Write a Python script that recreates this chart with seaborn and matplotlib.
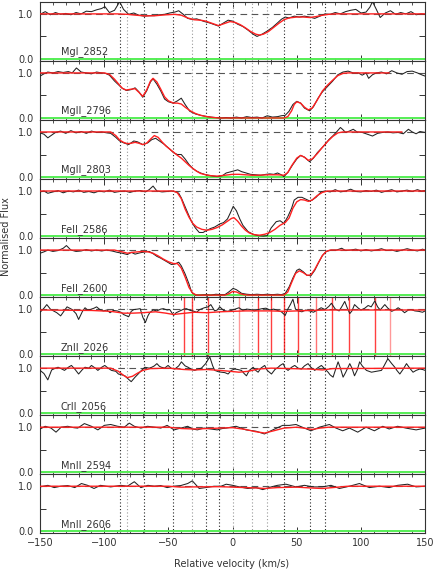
import matplotlib
matplotlib.use("Agg")
import seaborn as sns
from matplotlib import pyplot as plt
from matplotlib.ticker import MultipleLocator

# component velocities (km/s) marked by the dotted lines
components = [-88, -82, -69.3, -46.3, -31.3, -20.4, -10.4, 0.4, 15.3, 26.8, 40.2, 60.0, 72.3]
grey_components = [-82, -31.3, 0.4, 15.3, 26.8]
# MgI 2026 components blended into the ZnII panel
mg_blend_lines = [-37.6, -31.8, -19.0, 4.7, 19.8, 30.2, 40.1, 51.2, 65.3, 77.2, 90.8, 110.7, 122.9]
mg_blend_alpha = [0.75, 0.75, 0.75, 0.4, 0.75, 0.75, 0.75, 0.75, 0.55, 0.75, 0.75, 0.75, 0.4]

panel_names = ["MgI_2852", "MgII_2796", "MgII_2803", "FeII_2586", "FeII_2600",
               "ZnII_2026", "CrII_2056", "MnII_2594", "MnII_2606"]
err_level = [0.006, 0.008, 0.008, 0.008, 0.006, 0.01, 0.008, 0.006, 0.006]

mgi2852_data = [(-150, 0.99), (-146, 1.05), (-142, 0.98), (-138, 1.03), (-134, 0.99), (-130, 1.01),
                (-126, 0.98), (-122, 1.03), (-118, 1.0), (-114, 1.06), (-110, 1.05), (-106, 1.09),
                (-102, 1.12), (-99.5, 1.16), (-96, 1.03), (-92, 1.08), (-88, 1.27), (-85, 1.1),
                (-81, 0.99), (-77, 1.02), (-73, 0.97), (-69, 0.95), (-65, 0.96), (-61, 0.96),
                (-57, 0.98), (-53, 0.99), (-49, 1.02), (-45, 1.04), (-42, 1.07), (-38, 0.98),
                (-35, 0.9), (-32, 0.88), (-28, 0.89), (-25, 0.86), (-22, 0.83), (-18, 0.8),
                (-14, 0.76), (-11, 0.73), (-7, 0.8), (-3.5, 0.86), (0, 0.84), (4, 0.77), (8, 0.72),
                (12, 0.64), (16, 0.55), (19, 0.5), (23, 0.55), (27, 0.62), (31, 0.7), (35, 0.8),
                (38, 0.88), (41, 0.93), (44, 0.91), (48, 0.95), (52, 0.93), (56, 0.95), (60, 0.93),
                (64, 0.9), (68, 0.95), (72, 1.0), (76, 0.99), (80, 1.03), (84, 1.0), (88, 1.05),
                (92, 1.08), (96, 1.1), (100, 1.02), (104, 1.04), (107, 1.15), (109, 1.27), (112, 1.1),
                (115, 0.92), (119, 1.02), (123, 1.07), (127, 0.99), (131, 1.03), (135, 1.0),
                (139, 1.05), (143, 0.98), (147, 1.0), (150, 0.99)]
mgi2852_fit = [(-150, 1.0), (-90, 1.0), (-82, 0.99), (-75, 0.97), (-68, 0.955), (-60, 0.96),
               (-52, 0.98), (-45, 0.99), (-40, 0.97), (-35, 0.91), (-30, 0.87), (-25, 0.86),
               (-21, 0.84), (-16, 0.79), (-11, 0.74), (-6, 0.79), (-2, 0.83), (2, 0.81), (6, 0.76),
               (10, 0.69), (14, 0.61), (18, 0.55), (21, 0.53), (24, 0.55), (28, 0.61), (32, 0.7),
               (36, 0.79), (40, 0.87), (44, 0.91), (50, 0.93), (55, 0.93), (60, 0.92), (65, 0.94),
               (70, 0.97), (75, 0.99), (80, 1.0), (150, 1.0)]

mgii2796_data = [(-150, 0.93), (-147, 0.98), (-144, 1.02), (-140, 1.0), (-136, 1.03), (-132, 1.01),
                 (-128, 1.03), (-125, 1.0), (-121.7, 1.11), (-118, 1.02), (-114, 1.0), (-110, 0.98),
                 (-106, 1.02), (-102, 1.0), (-99, 0.99), (-96, 0.95), (-92, 0.82), (-89, 0.74),
                 (-86, 0.66), (-82.7, 0.61), (-79, 0.63), (-76, 0.67), (-73, 0.58), (-70, 0.46),
                 (-67, 0.6), (-64, 0.8), (-62, 0.87), (-59, 0.75), (-56, 0.6), (-53, 0.42),
                 (-50, 0.36), (-46.4, 0.33), (-43, 0.38), (-40, 0.44), (-37, 0.3), (-33.4, 0.15),
                 (-29, 0.09), (-25, 0.06), (-21.7, 0.04), (-17, 0.02), (-13, 0.01), (-9, 0.0),
                 (-5, 0.01), (-1, 0.0), (3, 0.02), (7, 0.0), (11, 0.03), (15, 0.01), (19, 0.02),
                 (23, 0.0), (27, 0.05), (31, 0.02), (35, 0.03), (38, 0.05), (41, 0.06), (44, 0.15),
                 (47, 0.3), (50, 0.37), (53, 0.33), (56, 0.22), (60, 0.16), (63, 0.25), (66.6, 0.44),
                 (70, 0.58), (74, 0.7), (78, 0.82), (82, 0.96), (86, 1.02), (90, 1.04), (94, 1.0),
                 (98, 1.0), (101, 0.95), (104, 1.0), (106, 0.88), (109, 0.96), (112, 1.0),
                 (116, 1.02), (120, 0.98), (124, 1.05), (128, 1.0), (132, 0.97), (136, 1.03),
                 (140, 1.04), (144, 1.0), (148, 0.95), (150, 0.93)]
mgii2796_fit = [(-150, 1.0), (-100, 1.0), (-96, 0.97), (-92, 0.86), (-89, 0.76), (-86, 0.66),
                (-83, 0.62), (-79, 0.64), (-76, 0.65), (-73, 0.57), (-70, 0.48), (-67, 0.62),
                (-64, 0.82), (-62, 0.88), (-59, 0.8), (-56, 0.64), (-53, 0.47), (-50, 0.38),
                (-46, 0.33), (-43, 0.33), (-40, 0.31), (-37, 0.24), (-33, 0.16), (-29, 0.1),
                (-25, 0.06), (-20, 0.03), (-15, 0.01), (-10, 0.0), (40, 0.0), (43, 0.03),
                (46, 0.16), (48, 0.3), (50, 0.36), (53, 0.33), (56, 0.24), (59, 0.18), (62, 0.22),
                (66, 0.4), (70, 0.6), (74, 0.73), (78, 0.84), (82, 0.94), (86, 0.99), (90, 1.0),
                (122, 1.0)]

mgii2803_data = [(-150, 0.98), (-147, 0.95), (-144, 0.87), (-141, 0.93), (-138, 0.99), (-134, 1.02),
                 (-130, 0.97), (-126, 1.03), (-122, 0.98), (-118, 1.01), (-114, 0.97), (-110, 1.02),
                 (-106, 0.99), (-102, 1.0), (-98, 0.98), (-95, 0.97), (-91, 0.88), (-88, 0.8),
                 (-85, 0.76), (-81, 0.72), (-77, 0.8), (-74, 0.78), (-70, 0.72), (-66, 0.76),
                 (-63, 0.83), (-60, 0.86), (-57, 0.8), (-53, 0.72), (-49, 0.62), (-46, 0.54),
                 (-43, 0.5), (-40, 0.5), (-37, 0.4), (-34, 0.28), (-31, 0.19), (-28, 0.13),
                 (-25, 0.09), (-22, 0.06), (-19, 0.04), (-15, 0.02), (-12, 0.01), (-8, 0.03),
                 (-5, 0.09), (-1, 0.12), (4, 0.16), (7, 0.12), (10.5, 0.09), (14, 0.06), (18, 0.05),
                 (22, 0.04), (26, 0.06), (29, 0.07), (32, 0.06), (35, 0.09), (38, 0.05), (40, 0.01),
                 (43, 0.1), (47, 0.28), (50, 0.4), (53, 0.48), (56, 0.44), (60, 0.34), (63, 0.42),
                 (66, 0.54), (69, 0.63), (72, 0.72), (75, 0.83), (78, 0.91), (81, 1.0), (84, 1.1),
                 (86, 1.05), (88, 0.99), (91, 1.02), (94, 1.06), (97, 1.0), (101, 0.99), (105, 0.95),
                 (109, 0.91), (113, 0.97), (117, 0.99), (121, 1.0), (125, 0.98), (129, 0.99),
                 (133, 0.96), (137, 1.06), (140, 1.0), (143, 0.96), (146, 1.01), (150, 0.99)]
mgii2803_fit = [(-150, 1.0), (-95, 1.0), (-91, 0.92), (-88, 0.82), (-85, 0.77), (-82, 0.74),
                (-79, 0.75), (-76, 0.77), (-73, 0.75), (-70, 0.72), (-67, 0.75), (-64, 0.84),
                (-61, 0.92), (-58, 0.88), (-55, 0.78), (-52, 0.69), (-49, 0.62), (-46, 0.55),
                (-43, 0.48), (-40, 0.42), (-37, 0.34), (-34, 0.26), (-31, 0.19), (-28, 0.13),
                (-25, 0.08), (-21, 0.05), (-17, 0.03), (-12, 0.02), (-6, 0.04), (0, 0.06), (5, 0.06),
                (10, 0.05), (15, 0.04), (20, 0.04), (28, 0.05), (35, 0.05), (40, 0.04), (43, 0.1),
                (46, 0.25), (50, 0.42), (53, 0.48), (56, 0.44), (59, 0.37), (62, 0.4), (66, 0.52),
                (70, 0.66), (74, 0.79), (78, 0.9), (82, 0.98), (86, 1.0), (132, 1.0)]

feii2586_data = [(-150, 0.98), (-147, 1.0), (-144, 0.95), (-140, 0.98), (-136, 1.01), (-132, 0.96),
                 (-128, 1.0), (-124, 0.98), (-120, 1.02), (-116, 0.97), (-112, 0.99), (-108, 0.96),
                 (-104, 1.0), (-100, 0.98), (-96, 1.02), (-92, 0.97), (-88, 0.99), (-84, 1.0),
                 (-80, 0.97), (-76, 1.0), (-72, 1.01), (-68, 0.98), (-65, 1.03), (-62, 1.11),
                 (-59, 1.0), (-55, 0.98), (-51, 0.99), (-47.7, 1.0), (-44, 0.98), (-42, 0.95),
                 (-40, 0.85), (-37, 0.65), (-34, 0.45), (-32, 0.32), (-29, 0.18), (-26, 0.08),
                 (-23, 0.08), (-20, 0.13), (-17, 0.17), (-14, 0.2), (-10, 0.27), (-7, 0.3),
                 (-4, 0.38), (-2, 0.5), (0.5, 0.66), (3, 0.56), (5.6, 0.38), (8, 0.24), (12, 0.1),
                 (16, 0.04), (20, 0.01), (24, 0.0), (27, 0.01), (30, 0.18), (34, 0.32), (37, 0.34),
                 (40, 0.28), (43, 0.43), (46, 0.62), (48, 0.8), (51, 0.86), (54, 0.86), (57, 0.82),
                 (60, 0.78), (62, 0.8), (65, 0.86), (69, 0.98), (72, 1.0), (76, 0.98), (80, 1.03),
                 (84, 0.98), (88, 1.0), (92, 1.04), (96, 0.99), (100, 0.98), (104, 1.01),
                 (108, 0.99), (112, 1.02), (116, 0.97), (120, 1.0), (124, 1.03), (128, 0.98),
                 (132, 1.0), (136, 1.02), (140, 0.99), (144, 1.03), (147, 1.0), (150, 1.01)]
feii2586_fit = [(-150, 1.0), (-46, 1.0), (-43, 0.96), (-40, 0.83), (-37, 0.6), (-34, 0.42),
                (-31, 0.28), (-28, 0.2), (-24, 0.15), (-20, 0.13), (-16, 0.15), (-12, 0.19),
                (-8, 0.25), (-4, 0.33), (-1, 0.39), (1, 0.41), (4, 0.33), (7, 0.22), (10, 0.13),
                (13, 0.07), (17, 0.03), (21, 0.02), (25, 0.04), (29, 0.08), (33, 0.15), (37, 0.24),
                (41, 0.3), (44, 0.4), (47, 0.62), (50, 0.76), (53, 0.81), (56, 0.8), (59, 0.77),
                (62, 0.8), (66, 0.9), (70, 0.97), (74, 1.0), (150, 1.0)]

feii2600_data = [(-150, 0.93), (-147, 0.96), (-144, 1.0), (-140, 0.97), (-136, 0.99), (-132, 1.04),
                 (-129.5, 1.1), (-126, 1.0), (-122, 0.97), (-118, 0.98), (-114, 1.01), (-110, 0.98),
                 (-106, 1.0), (-102, 0.98), (-98, 1.0), (-94, 0.98), (-90, 0.95), (-86, 0.93),
                 (-82, 0.9), (-79, 0.95), (-76, 0.91), (-72, 0.94), (-68, 0.96), (-65, 0.97),
                 (-62, 0.92), (-59, 0.86), (-56, 0.82), (-53, 0.77), (-50, 0.72), (-47.7, 0.68),
                 (-45, 0.69), (-42, 0.73), (-40, 0.65), (-37, 0.47), (-34, 0.25), (-32, 0.07),
                 (-29, 0.0), (-25, 0.0), (-21, 0.01), (-17, 0.0), (-13, 0.02), (-9, 0.01), (-6, 0.01),
                 (-3, 0.07), (0.4, 0.15), (3, 0.12), (7, 0.04), (11, 0.02), (15, 0.01), (19, 0.02),
                 (23, 0.01), (27, 0.02), (31, 0.01), (35, 0.02), (38, 0.01), (41, 0.04), (44, 0.18),
                 (47, 0.38), (50, 0.55), (52, 0.58), (55, 0.52), (58, 0.44), (61, 0.43), (64, 0.55),
                 (67, 0.72), (70, 0.88), (73, 0.97), (77, 1.0), (81, 1.0), (85, 1.04), (88, 0.99),
                 (92, 1.0), (96, 1.02), (100, 0.98), (104, 1.01), (108, 0.98), (112, 1.0),
                 (116, 1.03), (120, 0.99), (124, 1.0), (128, 0.97), (132, 1.0), (136, 1.03),
                 (140, 1.0), (144, 0.98), (148, 1.02), (150, 1.0)]
feii2600_fit = [(-150, 1.0), (-92, 1.0), (-86, 0.96), (-82, 0.93), (-78, 0.95), (-74, 0.96),
                (-70, 0.97), (-66, 0.96), (-62, 0.93), (-58, 0.87), (-54, 0.8), (-50, 0.74),
                (-46, 0.7), (-43, 0.7), (-40, 0.6), (-37, 0.4), (-34, 0.17), (-31, 0.04), (-28, 0.0),
                (-6, 0.0), (-3, 0.03), (0, 0.08), (3, 0.07), (6, 0.03), (9, 0.01), (12, 0.0),
                (40, 0.0), (43, 0.07), (46, 0.28), (49, 0.48), (52, 0.54), (55, 0.5), (58, 0.44),
                (61, 0.45), (64, 0.57), (67, 0.73), (70, 0.88), (73, 0.97), (76, 1.0), (150, 1.0)]

znii2026_data = [(-150, 0.93), (-147, 1.02), (-144.8, 1.1), (-142, 1.0), (-139.6, 0.96), (-137, 0.92),
                 (-134, 0.85), (-131, 0.97), (-129, 1.05), (-125, 0.99), (-122, 0.9), (-120, 0.77),
                 (-117, 0.95), (-115, 1.03), (-113, 0.98), (-111, 0.99), (-108, 1.02), (-106, 1.05),
                 (-103, 0.98), (-100.6, 0.96), (-98, 0.98), (-95.5, 0.92), (-93, 0.97), (-90, 0.96),
                 (-87, 0.93), (-85, 0.88), (-81, 0.83), (-79, 0.95), (-77, 0.99), (-74, 1.0),
                 (-72, 1.01), (-70, 0.82), (-68, 0.7), (-66, 0.85), (-64.6, 0.92), (-62, 0.98),
                 (-59, 0.96), (-56, 1.0), (-54, 1.01), (-51, 0.98), (-49, 0.99), (-46, 0.86),
                 (-44, 0.92), (-41, 0.96), (-38, 1.0), (-36, 1.01), (-33, 0.97), (-31, 0.96),
                 (-28, 0.93), (-25.6, 0.99), (-22, 1.03), (-19, 1.05), (-17, 1.1), (-14, 0.96),
                 (-12, 0.98), (-10, 1.05), (-7, 0.97), (-4, 0.95), (-1, 0.97), (2, 1.0), (5, 1.03),
                 (8, 0.97), (11, 1.0), (14, 0.99), (17, 0.96), (20, 0.99), (23, 1.01), (26, 1.02),
                 (29, 0.98), (32, 1.0), (35, 0.97), (38, 0.94), (41, 0.86), (43, 1.0), (45, 1.1),
                 (47, 1.22), (49, 1.0), (51, 0.96), (54, 0.94), (57, 0.98), (60, 0.96), (63, 0.93),
                 (66, 0.98), (69, 1.03), (72, 0.99), (75, 1.06), (77, 1.13), (80, 1.0), (83, 0.96),
                 (85, 1.05), (87.4, 1.17), (89, 1.05), (91.3, 0.9), (93, 0.96), (95, 1.1),
                 (98, 1.02), (100, 0.98), (103, 1.02), (105.6, 1.08), (108, 1.05), (110.8, 1.18),
                 (113, 1.05), (115, 0.98), (118.6, 1.1), (121, 1.02), (124, 0.95), (127, 0.99),
                 (129, 1.03), (132, 0.97), (134, 0.92), (137, 0.98), (139, 0.99), (142, 0.96),
                 (145, 0.95), (148, 0.93), (150, 0.96)]
znii2026_fit = [(-150, 0.98), (-110, 0.97), (-95, 0.95), (-85, 0.91), (-78, 0.91), (-70, 0.92),
                (-60, 0.94), (-52, 0.91), (-46, 0.88), (-40, 0.9), (-30, 0.93), (-20, 0.92),
                (-10, 0.94), (0, 0.95), (10, 0.96), (20, 0.96), (30, 0.96), (40, 0.95), (50, 0.96),
                (60, 0.97), (75, 0.98), (150, 0.98)]

crii2056_data = [(-150, 0.95), (-147, 0.88), (-144, 0.74), (-141, 0.96), (-138, 1.0), (-136, 1.02),
                 (-133, 0.98), (-131, 0.95), (-128, 1.02), (-125.6, 1.06), (-123, 0.98), (-120, 0.87),
                 (-117, 0.97), (-115, 1.02), (-112, 1.0), (-110, 1.06), (-107, 1.0), (-105, 0.95),
                 (-102, 1.02), (-99.6, 1.06), (-97, 1.0), (-94.4, 0.95), (-91, 0.93), (-89, 0.87),
                 (-86, 0.85), (-84, 0.83), (-81, 0.75), (-79, 0.7), (-76, 0.8), (-73.6, 0.87),
                 (-71, 0.95), (-68.4, 1.02), (-65, 1.0), (-63, 1.02), (-61, 1.05), (-59, 1.1),
                 (-57, 1.04), (-55.5, 1.02), (-53, 1.0), (-50.3, 1.06), (-48, 1.0), (-45, 0.98),
                 (-42, 1.05), (-39.9, 1.14), (-37, 1.05), (-34.7, 1.02), (-32, 0.97), (-29.5, 0.95),
                 (-27, 0.98), (-24.3, 1.0), (-21, 1.1), (-17.8, 1.25), (-15.5, 1.05), (-13.9, 0.95),
                 (-11, 0.92), (-8.7, 0.91), (-6, 0.9), (-3.5, 0.87), (-1, 0.95), (1.7, 0.98),
                 (4, 0.97), (6.9, 0.95), (9, 0.88), (10.8, 0.83), (13, 0.95), (16, 1.02), (18, 0.95),
                 (19.9, 0.91), (22, 1.0), (25, 1.06), (27, 0.95), (30.3, 0.87), (33, 0.97),
                 (35.5, 1.02), (37, 1.06), (39.4, 1.1), (41, 1.0), (43.2, 0.95), (46, 1.02),
                 (48.4, 1.06), (51, 1.0), (53.6, 0.98), (56, 1.05), (58.8, 1.1), (61, 1.02),
                 (64, 0.95), (66, 1.0), (69.2, 1.06), (72, 0.98), (74.4, 0.91), (76, 0.85),
                 (78.3, 0.8), (80, 0.95), (82.2, 1.14), (84, 1.0), (86.1, 0.8), (88, 0.9),
                 (91.3, 1.1), (93, 1.0), (95, 0.83), (97, 0.95), (99, 1.14), (101, 1.05),
                 (104.3, 0.95), (108.2, 0.91), (112, 0.93), (116, 0.95), (118, 1.05), (121, 1.21),
                 (124, 1.1), (126.4, 1.02), (128, 0.95), (130.3, 0.87), (133, 0.98), (135.5, 1.1),
                 (138, 1.0), (140.6, 0.91), (143, 0.95), (145.8, 0.98), (148, 0.97), (150, 0.95)]
crii2056_fit = [(-150, 1.0), (-95, 1.0), (-89, 0.93), (-85, 0.84), (-82, 0.79), (-78, 0.82),
                (-74, 0.89), (-70, 0.95), (-64, 0.99), (-50, 1.0), (-38, 0.97), (-30, 0.96),
                (-20, 0.97), (-10, 0.95), (-2, 0.93), (5, 0.91), (12, 0.93), (20, 0.98), (30, 1.0),
                (60, 0.98), (70, 0.96), (78, 0.99), (150, 1.0)]

mnii2594_data = [(-150, 0.96), (-146, 1.02), (-141.5, 0.98), (-137.6, 0.89), (-133.6, 1.0),
                 (-128.5, 1.02), (-124, 0.99), (-120.7, 0.98), (-115.5, 1.08), (-110, 1.02),
                 (-105, 0.94), (-100, 1.04), (-95, 1.06), (-89.6, 1.02), (-84.4, 1.0),
                 (-80.5, 1.09), (-76.6, 1.02), (-71.5, 0.98), (-66.3, 1.02), (-61, 1.0),
                 (-56, 0.98), (-51, 1.04), (-45.6, 0.94), (-40.4, 0.98), (-35, 1.02), (-31.4, 0.96),
                 (-27.5, 0.94), (-22.3, 0.98), (-17, 0.96), (-12, 0.94), (-8, 0.97), (-5, 0.98),
                 (2.7, 1.02), (10.5, 0.94), (18.3, 0.91), (24.8, 0.85), (31.3, 0.94), (39, 1.04),
                 (44.2, 1.04), (49.4, 1.06), (55.9, 0.98), (61.1, 0.92), (67.6, 1.0), (75.4, 1.06),
                 (80.6, 0.98), (85.8, 0.92), (91, 0.98), (97.5, 0.89), (104, 1.0), (110.5, 0.92),
                 (117, 1.02), (122, 0.96), (128.6, 1.02), (135, 0.98), (143, 0.94), (150, 0.98)]
mnii2594_fit = [(-150, 1.0), (-50, 1.0), (-40, 0.97), (-30, 0.96), (-20, 0.97), (-10, 0.98),
                (0, 0.99), (10, 0.95), (18, 0.9), (25, 0.87), (32, 0.92), (40, 0.98), (50, 1.0),
                (58, 0.97), (62, 0.95), (68, 0.98), (75, 1.0), (150, 1.0)]

mnii2606_data = [(-150, 0.985), (-144, 1.02), (-139, 0.97), (-134, 1.0), (-128.5, 1.015),
                 (-123, 0.97), (-117.8, 1.06), (-113, 1.02), (-108, 0.95), (-103, 1.02),
                 (-95, 0.985), (-87, 1.02), (-82, 1.0), (-76.6, 1.1), (-71.5, 0.97), (-66, 1.02),
                 (-61, 1.0), (-56, 1.015), (-51, 0.97), (-46, 1.0), (-40.4, 1.015), (-35, 1.06),
                 (-31.4, 1.12), (-26, 0.95), (-21, 0.97), (-14.4, 1.0), (-9, 1.0), (-5, 1.045),
                 (0, 1.02), (5.3, 0.985), (11.8, 0.95), (18.3, 0.97), (23.5, 0.925), (30, 0.985),
                 (35, 1.02), (41.6, 1.045), (49.4, 0.985), (56, 1.02), (62.4, 0.985), (70, 0.985),
                 (76.7, 1.02), (83.2, 0.95), (91, 1.0), (98.8, 1.06), (106.6, 0.97), (114.4, 1.0),
                 (122, 0.97), (128.6, 1.02), (136.4, 1.045), (143, 0.985), (150, 1.0)]
mnii2606_fit = [(-150, 1.0), (-50, 1.0), (-40, 0.98), (-30, 0.985), (-10, 0.99), (10, 0.97),
                (20, 0.96), (25, 0.95), (35, 0.97), (50, 0.98), (62, 0.96), (70, 0.95), (78, 0.97),
                (90, 1.0), (150, 1.0)]

panel_data = [mgi2852_data, mgii2796_data, mgii2803_data, feii2586_data, feii2600_data,
              znii2026_data, crii2056_data, mnii2594_data, mnii2606_data]
panel_fit = [mgi2852_fit, mgii2796_fit, mgii2803_fit, feii2586_fit, feii2600_fit,
             znii2026_fit, crii2056_fit, mnii2594_fit, mnii2606_fit]

sns.set_style("ticks")
plt.rcParams["font.family"] = ["DejaVu Sans"]
plt.rcParams["font.size"] = 7
text_col = "#333333"

fig, axes = plt.subplots(9, 1, sharex=True, figsize=(4.36, 5.72), dpi=100)
fig.subplots_adjust(left=0.092, right=0.975, top=0.997, bottom=0.068, hspace=0)

for i, ax in enumerate(axes):
    # component markers
    for c in components:
        col = "#999999" if c in grey_components else "#222222"
        ax.axvline(c, color=col, ls=(0, (1, 2)), lw=0.8, zorder=1)
    ax.axhline(1.0, color="#555555", ls=(0, (6, 4)), lw=0.8, zorder=1)
    if panel_names[i] == "ZnII_2026":
        for v, a in zip(mg_blend_lines, mg_blend_alpha):
            ax.axvline(v, color="red", lw=1.0, alpha=a, zorder=2)

    # error spectrum
    sns.lineplot(x=[-150, 150], y=[err_level[i], err_level[i]], ax=ax,
                 color="#55ee55", lw=1.4, zorder=2)
    # data and fit
    dv, df = zip(*panel_data[i])
    sns.lineplot(x=list(dv), y=list(df), ax=ax, color="#222222", lw=0.75,
                 estimator=None, zorder=3)
    fv, ff = zip(*panel_fit[i])
    sns.lineplot(x=list(fv), y=list(ff), ax=ax, color="#ff2020", lw=1.0,
                 estimator=None, zorder=4)

    ax.text(-134, 0.035, panel_names[i], fontsize=7, color=text_col, va="bottom", ha="left")

    ax.set_xlim(-150, 150)
    ax.set_ylim(-0.04, 1.27)
    ax.set_yticks([0.0, 0.5, 1.0])
    ax.set_yticklabels(["0.0", "", "1.0"])
    ax.xaxis.set_major_locator(MultipleLocator(50))
    ax.xaxis.set_minor_locator(MultipleLocator(10))
    ax.tick_params(which="both", direction="in", top=True, right=True,
                   colors="#333333", labelcolor=text_col, labelsize=7)
    ax.tick_params(which="major", length=4, width=0.7)
    ax.tick_params(which="minor", length=2.5, width=0.6)
    ax.tick_params(axis="y", pad=5)
    for sp in ax.spines.values():
        sp.set_linewidth(0.8)
        sp.set_color("#333333")
    ax.set_xlabel("")
    ax.set_ylabel("")

fig.text(0.013, 0.586, "Normalised Flux", rotation=90, va="center", ha="center",
         fontsize=7, color=text_col)
fig.text(0.532, 0.014, "Relative velocity (km/s)", va="center", ha="center",
         fontsize=7, color=text_col)

fig.savefig("out.png", dpi=100)
